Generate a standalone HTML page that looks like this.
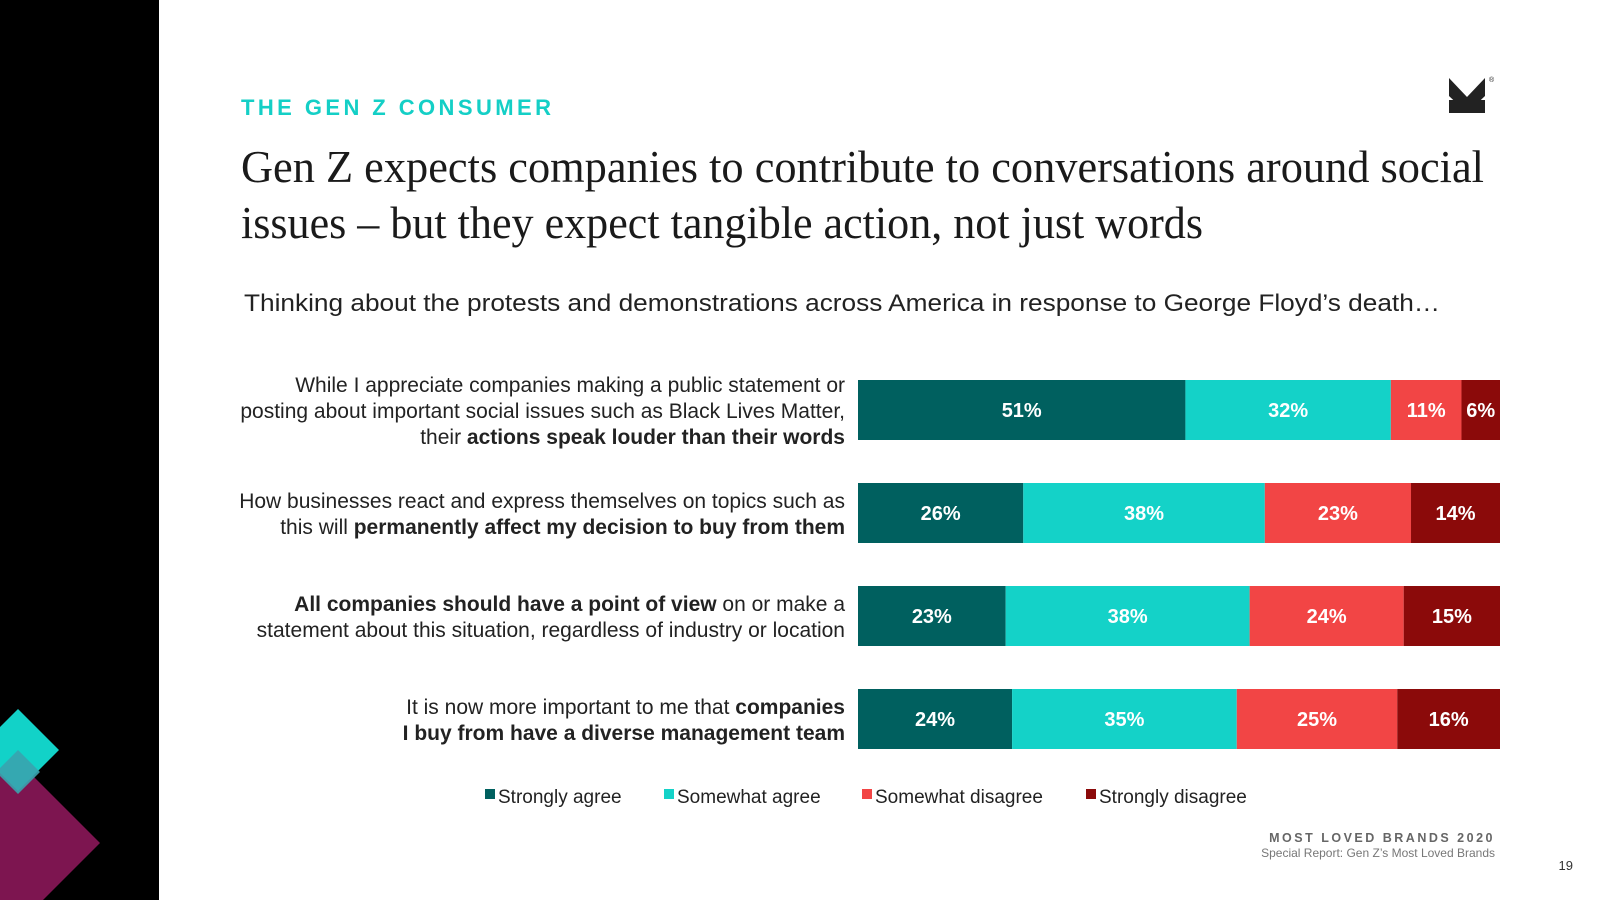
<!DOCTYPE html>
<html><head><meta charset="utf-8"><style>
html,body{margin:0;padding:0;background:#fff;}
svg{display:block;font-family:"Liberation Sans",sans-serif;}
</style></head><body>
<svg id="chart" width="1600" height="900" viewBox="0 0 1600 900">
  <rect x="0" y="0" width="159" height="900" fill="#000"/>
  <polygon points="0,743 100,843 0,943 -100,843" fill="#7d1550"/>
  <polygon points="18,709 59,750 18,791 -23,750" fill="#12d2c8"/>
  <polygon points="18,750 40,772 18,794 -4,772" fill="#3aa3ae" opacity="0.9"/>

  <text x="241" y="115" font-size="22" font-weight="bold" fill="#14cfc6" letter-spacing="3" textLength="313">THE GEN Z CONSUMER</text>
  <g>
    <polygon points="1449,78 1467,97 1485,78 1485,96 1467,113 1449,96" fill="#222"/>
    <polygon points="1449,100 1458,100 1467,110 1476,100 1485,100 1485,113 1449,113" fill="#222"/>
    <text x="1489" y="82" font-size="7" fill="#222">®</text>
  </g>
  <text x="241" y="182" font-family="'Liberation Serif',serif" font-size="46" fill="#1a1a1a" textLength="1243" lengthAdjust="spacingAndGlyphs">Gen Z expects companies to contribute to conversations around social</text>
  <text x="241" y="238" font-family="'Liberation Serif',serif" font-size="46" fill="#1a1a1a" textLength="962" lengthAdjust="spacingAndGlyphs">issues – but they expect tangible action, not just words</text>
  <text x="244" y="311" font-size="24" fill="#222" textLength="1196" lengthAdjust="spacingAndGlyphs">Thinking about the protests and demonstrations across America in response to George Floyd’s death…</text>

  <g id="labels" font-size="21" fill="#222" text-anchor="end"></g>
  <g id="bars"></g>

  <g font-size="19" fill="#222">
    <rect x="485" y="789" width="10" height="10" fill="#00605f"/>
    <text x="498" y="803">Strongly agree</text>
    <rect x="664" y="789" width="10" height="10" fill="#14d2c8"/>
    <text x="677" y="803">Somewhat agree</text>
    <rect x="862" y="789" width="10" height="10" fill="#f24545"/>
    <text x="875" y="803">Somewhat disagree</text>
    <rect x="1086" y="789" width="10" height="10" fill="#8b0a0a"/>
    <text x="1099" y="803">Strongly disagree</text>
  </g>

  <text x="1495" y="842" font-size="12.5" font-weight="bold" fill="#666" letter-spacing="2.5" text-anchor="end">MOST LOVED BRANDS 2020</text>
  <text x="1495" y="857" font-size="12" fill="#777" text-anchor="end">Special Report: Gen Z’s Most Loved Brands</text>
  <text x="1573" y="870" font-size="13" fill="#333" text-anchor="end">19</text>
</svg>
<script>
const categories = ["actions-speak-louder", "permanently-affect", "point-of-view", "diverse-management"];
const stronglyAgree = [51, 26, 23, 24];
const somewhatAgree = [32, 38, 38, 35];
const somewhatDisagree = [11, 23, 24, 25];
const stronglyDisagree = [6, 14, 15, 16];
const seriesNames = ["strongly-agree", "somewhat-agree", "somewhat-disagree", "strongly-disagree"];
const labelLines = [
  [["While I appreciate companies making a public statement or",""],["posting about important social issues such as Black Lives Matter,",""],["their ","actions speak louder than their words"]],
  [["How businesses react and express themselves on topics such as",""],["this will ","permanently affect my decision to buy from them"]],
  [["","All companies should have a point of view"," on or make a"],["statement about this situation, regardless of industry or location",""]],
  [["It is now more important to me that ","companies"],["","I buy from have a diverse management team"]]
];

const NS = "http://www.w3.org/2000/svg";
const x0 = 858, x1 = 1500;
const colors = ["#00605f", "#14d2c8", "#f24545", "#8b0a0a"];
const barTop = i => 380 + i * 103;
const barH = 60;
const series = [stronglyAgree, somewhatAgree, somewhatDisagree, stronglyDisagree];
const barsG = document.getElementById("bars");
const labelsG = document.getElementById("labels");

categories.forEach((cat, i) => {
  const total = series.reduce((s, arr) => s + arr[i], 0);
  const xs = v => (v / total) * (x1 - x0);
  let cx = x0;
  series.forEach((arr, k) => {
    const w = xs(arr[i]);
    const r = document.createElementNS(NS, "rect");
    r.setAttribute("x", cx); r.setAttribute("y", barTop(i));
    r.setAttribute("width", w); r.setAttribute("height", barH);
    r.setAttribute("fill", colors[k]);
    
    
    barsG.appendChild(r);
    const t = document.createElementNS(NS, "text");
    t.setAttribute("x", cx + w / 2); t.setAttribute("y", barTop(i) + barH / 2 + 7);
    t.setAttribute("text-anchor", "middle"); t.setAttribute("fill", "#fff");
    t.setAttribute("font-size", "20"); t.setAttribute("font-weight", "bold");
    t.textContent = arr[i] + "%";
    
    
    barsG.appendChild(t);
    cx += w;
  });
  const lines = labelLines[i];
  const n = lines.length;
  const center = barTop(i) + barH / 2;
  lines.forEach((parts, j) => {
    const t = document.createElementNS(NS, "text");
    t.setAttribute("x", 845);
    t.setAttribute("y", center + (j - (n - 1) / 2) * 26 + 8);
    parts.forEach((p, pi) => {
      if (!p) return;
      const s = document.createElementNS(NS, "tspan");
      if (pi === 1) s.setAttribute("font-weight", "bold");
      s.textContent = p;
      t.appendChild(s);
    });
    
    
    labelsG.appendChild(t);
  });
});
</script>
</body></html>
